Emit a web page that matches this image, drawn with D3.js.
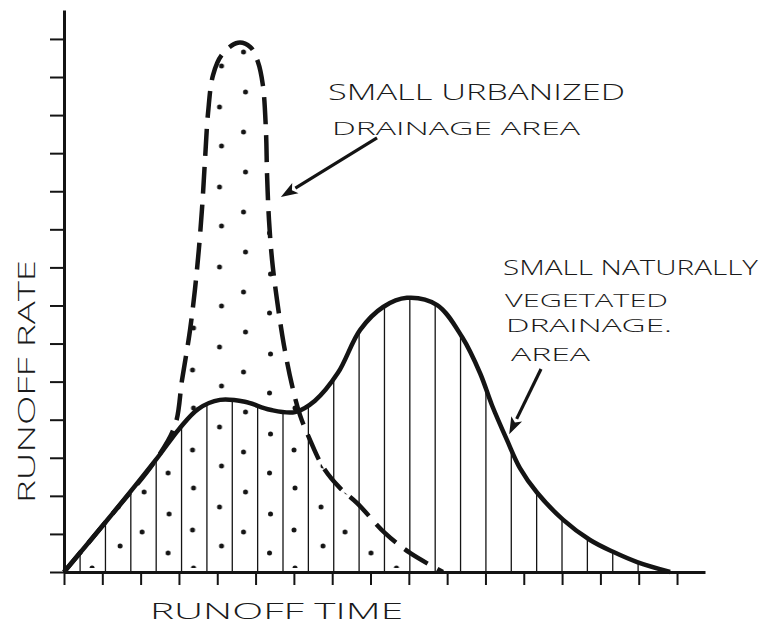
<!DOCTYPE html>
<html>
<head>
<meta charset="utf-8">
<script src="https://cdn.jsdelivr.net/npm/d3@7"></script>
<style>
  html, body { margin: 0; padding: 0; background: #fff; }
  svg { display: block; }
  text { font-family: "Open Sans", "DejaVu Sans", sans-serif; font-weight: 300; fill: #1a1a1a; }
</style>
</head>
<body>
<div id="chart"></div>
<script>
// runoff time (x) and runoff rate (y) in tick units
const naturalTime = [0, 1.2, 2.4, 3.0, 3.5, 4.07, 4.72, 5.38, 6.03, 6.55, 7.15, 7.73, 8.33, 8.95, 9.74, 10.39, 10.86, 11.17, 11.56, 11.90, 12.35, 13.03, 13.73, 14.33, 14.96, 15.82];
const naturalRate = [0, 1.45, 2.95, 3.75, 4.28, 4.52, 4.47, 4.26, 4.20, 4.50, 5.23, 6.36, 6.96, 7.20, 7.01, 6.17, 5.22, 4.38, 3.47, 2.73, 2.08, 1.37, 0.84, 0.53, 0.26, 0];

const urbanTime = [0, 1.2, 2.4, 2.90, 3.08, 3.29, 3.47, 3.60, 3.68, 3.76, 3.89, 4.12, 4.54, 4.86, 5.06, 5.19, 5.27, 5.30, 5.35, 5.43, 5.56, 5.74, 5.95, 6.16, 6.42, 6.76, 7.20, 7.65, 8.38, 9.03, 9.89];
const urbanRate = [0, 1.45, 2.95, 3.86, 5.04, 6.36, 7.93, 9.51, 10.82, 12.06, 13.05, 13.58, 13.90, 13.79, 13.40, 12.79, 11.61, 10.43, 9.25, 8.20, 7.14, 5.96, 4.91, 4.12, 3.47, 2.76, 2.21, 1.81, 1.02, 0.50, 0];

const xTicks = d3.range(0, 17);   // 0..16
const yTicks = d3.range(0, 15);   // 0..14

const urbanLabel = ["SMALL URBANIZED", "DRAINAGE AREA"];
const naturalLabel = ["SMALL NATURALLY", "VEGETATED", "DRAINAGE.", "AREA"];
const xTitle = "RUNOFF TIME";
const yTitle = "RUNOFF RATE";

// arrows: [from, to] in data units
const urbanArrow = [[8.17, 11.40], [5.66, 9.85]];
const naturalArrow = [[12.45, 5.33], [11.62, 3.62]];

const width = 770, height = 624;
const ink = "#141414";

const svg = d3.select("#chart").append("svg")
  .attr("width", width)
  .attr("height", height);

const x = d3.scaleLinear().domain([0, 16.73]).range([64, 705]);
const y = d3.scaleLinear().domain([0, 14.76]).range([572, 10]);

const natural = naturalTime.map((t, i) => ({ t, r: naturalRate[i] }));
const urban = urbanTime.map((t, i) => ({ t, r: urbanRate[i] }));

const curve = d3.curveCatmullRom.alpha(0.5);

const line = d3.line()
  .x(d => x(d.t))
  .y(d => y(d.r))
  .curve(curve);

const area = d3.area()
  .x(d => x(d.t))
  .y0(y(0))
  .y1(d => y(d.r))
  .curve(curve);

const defs = svg.append("defs");

defs.append("clipPath").attr("id", "clipNatural")
  .append("path").attr("d", area(natural));
defs.append("clipPath").attr("id", "clipUrban")
  .append("path").attr("d", area(urban));

// stippled texture for the urbanized hydrograph
const hatchStep = (x(1) - x(0)) * 0.662;
const pat = defs.append("pattern")
  .attr("id", "dots")
  .attr("patternUnits", "userSpaceOnUse")
  .attr("x", x(0.42))
  .attr("y", 0)
  .attr("width", hatchStep * 4)
  .attr("height", 80);
[[12, 8], [11, 50], [38, 27], [40, 66], [64, 12], [62, 52], [89, 34], [88, 73]].forEach(([cx, cy]) => {
  pat.append("circle").attr("cx", cx).attr("cy", cy).attr("r", 2.5).attr("fill", ink);
});

svg.append("rect")
  .attr("x", 60).attr("y", 0)
  .attr("width", 400).attr("height", y(0) - 4)
  .attr("fill", "url(#dots)")
  .attr("clip-path", "url(#clipUrban)");

// vertical hatching under the naturally vegetated hydrograph
const hatchX = d3.range(0.42, 16, 0.662);
svg.append("g")
  .attr("clip-path", "url(#clipNatural)")
  .selectAll("line")
  .data(hatchX)
  .join("line")
  .attr("x1", d => x(d)).attr("x2", d => x(d))
  .attr("y1", y(0)).attr("y2", 0)
  .attr("stroke", ink)
  .attr("stroke-width", 1.3);

// axes
const yAxis = svg.append("g")
  .attr("transform", `translate(${x(0)},0)`)
  .call(d3.axisLeft(y).tickValues(yTicks).tickSize(14).tickSizeOuter(0).tickFormat(""));
const xAxis = svg.append("g")
  .attr("transform", `translate(0,${y(0)})`)
  .call(d3.axisBottom(x).tickValues(xTicks).tickSize(13).tickSizeOuter(0).tickFormat(""));

[yAxis, xAxis].forEach(g => {
  g.select(".domain").attr("stroke", ink).attr("stroke-width", 3);
  g.selectAll(".tick line").attr("stroke", ink).attr("stroke-width", 2);
});

// the two hydrographs
svg.append("path")
  .attr("d", line(urban))
  .attr("fill", "none")
  .attr("stroke", ink)
  .attr("stroke-width", 4.5)
  .attr("stroke-dasharray", "27 11");

svg.append("path")
  .attr("d", line(natural))
  .attr("fill", "none")
  .attr("stroke", ink)
  .attr("stroke-width", 4.5)
  .attr("stroke-linejoin", "round");

// annotation arrows
function drawArrow(pts) {
  const [x1, y1] = [x(pts[0][0]), y(pts[0][1])];
  const [x2, y2] = [x(pts[1][0]), y(pts[1][1])];
  const ang = Math.atan2(y2 - y1, x2 - x1);
  const len = 17, half = 6;
  const bx = x2 - len * Math.cos(ang), by = y2 - len * Math.sin(ang);
  svg.append("line")
    .attr("x1", x1).attr("y1", y1).attr("x2", bx).attr("y2", by)
    .attr("stroke", ink).attr("stroke-width", 3.2);
  svg.append("path")
    .attr("d", `M${x2},${y2}L${bx - half * Math.sin(ang)},${by + half * Math.cos(ang)}L${bx + 4 * Math.cos(ang)},${by + 4 * Math.sin(ang)}L${bx + half * Math.sin(ang)},${by - half * Math.cos(ang)}Z`)
    .attr("fill", ink);
}
drawArrow(urbanArrow);
drawArrow(naturalArrow);

// lettering
function label(str, px, py, len, size) {
  svg.append("text")
    .attr("x", px).attr("y", py)
    .attr("font-size", size)
    .attr("textLength", len)
    .attr("lengthAdjust", "spacingAndGlyphs")
    .text(str);
}
label(urbanLabel[0], 328, 100, 297, 22);
label(urbanLabel[1], 332, 135, 248, 19);
label(naturalLabel[0], 503, 275, 255, 21);
label(naturalLabel[1], 505, 307, 163, 19);
label(naturalLabel[2], 506, 332, 166, 19);
label(naturalLabel[3], 511, 361, 79, 19);
label(xTitle, 150, 619, 253, 22);

svg.append("text")
  .attr("transform", "translate(35,503) rotate(-90)")
  .attr("font-size", 23)
  .attr("textLength", 243)
  .attr("lengthAdjust", "spacingAndGlyphs")
  .text(yTitle);
</script>
</body>
</html>
